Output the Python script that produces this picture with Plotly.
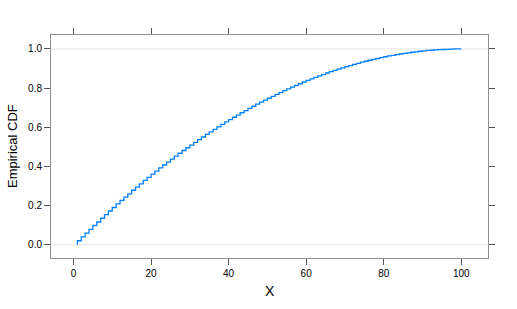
import plotly.graph_objects as go

# sorted data values (first entry: start of the ECDF at the first observation)
x_vals = [1] + list(range(1, 101))
ecdf_vals = [0.000,
    0.020, 0.040, 0.059, 0.078, 0.098, 0.116, 0.135, 0.154, 0.172, 0.190,
    0.208, 0.226, 0.243, 0.260, 0.278, 0.294, 0.311, 0.328, 0.344, 0.360,
    0.376, 0.392, 0.407, 0.422, 0.437, 0.452, 0.467, 0.481, 0.495, 0.509,
    0.523, 0.537, 0.550, 0.563, 0.576, 0.589, 0.602, 0.614, 0.627, 0.639,
    0.651, 0.662, 0.674, 0.685, 0.696, 0.707, 0.718, 0.728, 0.738, 0.748,
    0.758, 0.768, 0.777, 0.787, 0.796, 0.805, 0.814, 0.822, 0.831, 0.839,
    0.847, 0.855, 0.862, 0.869, 0.877, 0.884, 0.890, 0.897, 0.903, 0.909,
    0.915, 0.921, 0.926, 0.932, 0.937, 0.942, 0.946, 0.951, 0.955, 0.960,
    0.964, 0.967, 0.971, 0.974, 0.977, 0.980, 0.983, 0.985, 0.988, 0.990,
    0.992, 0.993, 0.995, 0.996, 0.997, 0.998, 0.999, 1.000, 1.000, 1.000,
]
x_ticks = [0, 20, 40, 60, 80, 100]
y_ticks = [0.0, 0.2, 0.4, 0.6, 0.8, 1.0]
y_tick_text = ["0.0", "0.2", "0.4", "0.6", "0.8", "1.0"]
ref_lines = [0.0, 1.0]

font_family = "Liberation Sans, Arial, sans-serif"
border = "#8f8f8f"

fig = go.Figure()
fig.add_trace(go.Scatter(
    x=x_vals, y=ecdf_vals, mode="lines", line_shape="hv",
    line=dict(color="#0080ff", width=1.3), hoverinfo="skip", showlegend=False,
))
for r in ref_lines:
    fig.add_shape(type="line", xref="paper", x0=0, x1=1, yref="y", y0=r, y1=r,
                  line=dict(color="#e6e6e6", width=1), layer="below")

fig.add_annotation(text="X", xref="paper", yref="paper", x=0.5, y=-0.15,
                   xanchor="center", yanchor="middle", showarrow=False,
                   font=dict(size=14, family=font_family, color="black"))
fig.add_annotation(text="Empirical CDF", xref="paper", yref="paper", x=-0.088, y=0.5,
                   xanchor="center", yanchor="middle", showarrow=False, textangle=-90,
                   font=dict(size=13, family=font_family, color="black"))

fig.update_layout(
    width=517, height=309,
    margin=dict(l=51, r=29, t=35, b=51, autoexpand=False),
    paper_bgcolor="white", plot_bgcolor="white",
    font=dict(family=font_family, size=10, color="black"),
    showlegend=False,
)
fig.update_xaxes(
    range=[-5.8, 106.9], tickvals=x_ticks, ticktext=[str(v) for v in x_ticks],
    showgrid=False, zeroline=False, showline=True, linecolor=border, linewidth=1,
    mirror="ticks", ticks="outside", ticklen=6, tickcolor="#555555", tickwidth=1,
    tickfont=dict(size=10), automargin=False,
)
fig.update_yaxes(
    range=[-0.068, 1.071], tickvals=y_ticks, ticktext=y_tick_text,
    showgrid=False, zeroline=False, showline=True, linecolor=border, linewidth=1,
    mirror="ticks", ticks="outside", ticklen=6, tickcolor="#555555", tickwidth=1,
    tickfont=dict(size=10), automargin=False,
)

fig.write_html("out.html")
